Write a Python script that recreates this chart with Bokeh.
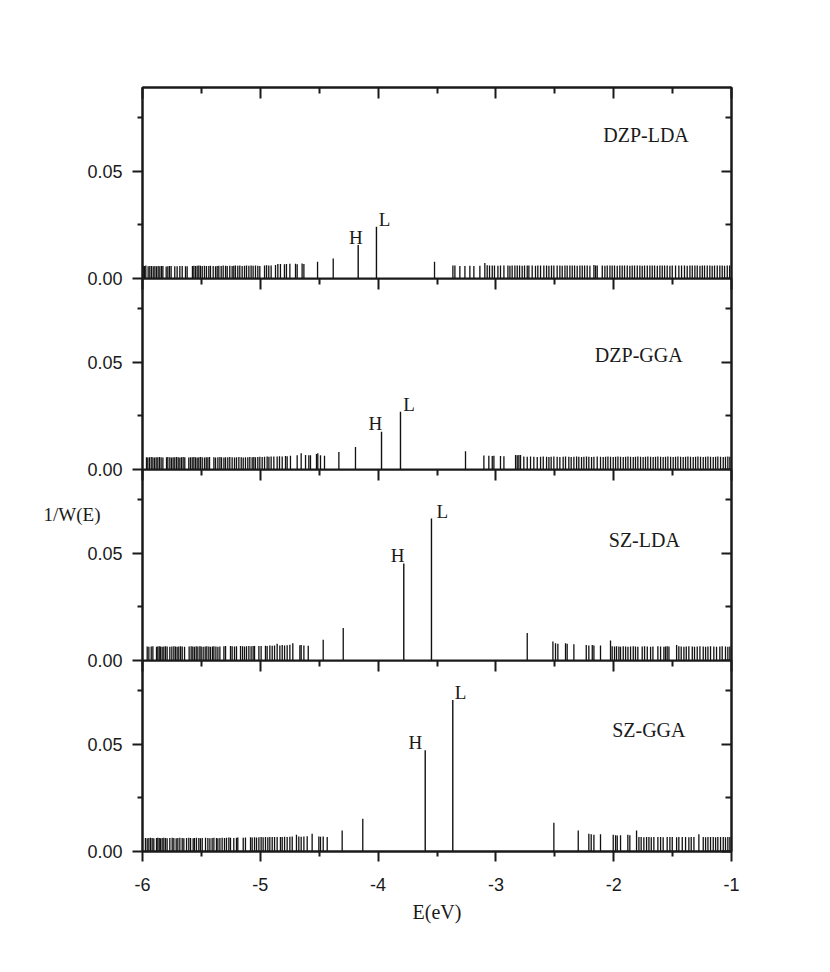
from bokeh.plotting import figure
from bokeh.models import (Range1d, LinearAxis, FixedTicker, PrintfTickFormatter,
                          Label, ColumnDataSource, Grid)
from bokeh.layouts import column
from bokeh.embed import file_html
from bokeh.resources import INLINE
from bokeh.core.properties import value

SANS = "Liberation Sans"
SERIF = "Liberation Serif"
INK = "#1a1a1a"
STICK = "#111111"

# ---------------- data ----------------
x_major = [-6, -5, -4, -3, -2, -1]
x_minor = [-5.5, -4.5, -3.5, -2.5, -1.5]
y_major = [0.0, 0.05]
y_minor = [0.025, 0.075]

panel_names = ["DZP-LDA", "DZP-GGA", "SZ-LDA", "SZ-GGA"]

# HOMO (H) and LUMO (L) levels per panel
homo_e = [-4.169, -3.971, -3.782, -3.600]
homo_h = [0.0156, 0.0176, 0.0452, 0.0472]
lumo_e = [-4.014, -3.810, -3.547, -3.366]
lumo_h = [0.0241, 0.0269, 0.0662, 0.0706]

# DZP-LDA levels
dzp_lda_e = [
    -5.994, -5.983, -5.972, -5.952, -5.938, -5.924, -5.909, -5.895, -5.881, -5.867,
    -5.853, -5.839, -5.827, -5.799, -5.785, -5.771, -5.757, -5.726, -5.706, -5.683,
    -5.663, -5.635, -5.621, -5.576, -5.564, -5.550, -5.536, -5.522, -5.508, -5.493,
    -5.474, -5.457, -5.437, -5.423, -5.400, -5.380, -5.366, -5.352, -5.332, -5.315,
    -5.295, -5.281, -5.259, -5.239, -5.225, -5.211, -5.191, -5.174, -5.154, -5.134,
    -5.117, -5.097, -5.078, -5.061, -5.041, -5.021, -5.004, -4.964, -4.947, -4.928,
    -4.908, -4.871, -4.851, -4.829, -4.795, -4.778, -4.749, -4.701, -4.687, -4.645,
    -4.630, -4.514, -4.381, -3.521,
    -3.365, -3.348, -3.306, -3.263, -3.221, -3.187, -3.136, -3.094, -3.074, -3.054,
    -3.031, -3.012, -2.983, -2.961, -2.932, -2.898, -2.881, -2.862, -2.839, -2.819,
    -2.799, -2.777, -2.757, -2.734, -2.720, -2.692, -2.664, -2.644, -2.621, -2.593,
    -2.570, -2.550, -2.528, -2.508, -2.480, -2.457, -2.437, -2.414, -2.395, -2.372,
    -2.352, -2.332, -2.310, -2.287, -2.267, -2.247, -2.225, -2.202, -2.168, -2.154,
    -2.140, -2.097, -2.075, -2.055, -2.032, -2.013, -1.993, -1.970, -1.948, -1.928,
    -1.908, -1.885, -1.863, -1.843, -1.823, -1.800, -1.778, -1.758, -1.738, -1.715,
    -1.693, -1.673, -1.653, -1.630, -1.608, -1.588, -1.568, -1.546, -1.523, -1.503,
    -1.475, -1.447, -1.424, -1.399, -1.376, -1.353, -1.333, -1.311, -1.291, -1.268,
    -1.248, -1.229, -1.206, -1.184, -1.164, -1.144, -1.121, -1.099, -1.079, -1.059,
    -1.036, -1.016,
]
dzp_lda_h = [
    0.0059, 0.0058, 0.0060, 0.0057, 0.0058, 0.0058, 0.0057, 0.0058, 0.0057, 0.0058,
    0.0057, 0.0058, 0.0058, 0.0056, 0.0057, 0.0058, 0.0058, 0.0057, 0.0057, 0.0058,
    0.0058, 0.0057, 0.0057, 0.0058, 0.0059, 0.0058, 0.0059, 0.0060, 0.0059, 0.0058,
    0.0059, 0.0058, 0.0058, 0.0059, 0.0058, 0.0057, 0.0058, 0.0059, 0.0058, 0.0060,
    0.0059, 0.0058, 0.0059, 0.0058, 0.0059, 0.0060, 0.0059, 0.0060, 0.0058, 0.0059,
    0.0060, 0.0059, 0.0060, 0.0059, 0.0060, 0.0059, 0.0058, 0.0060, 0.0062, 0.0060,
    0.0061, 0.0063, 0.0068, 0.0067, 0.0066, 0.0068, 0.0069, 0.0069, 0.0066, 0.0070,
    0.0068, 0.0078, 0.0093, 0.0078,
    0.0060, 0.0060, 0.0058, 0.0058, 0.0059, 0.0058, 0.0059, 0.0072, 0.0062, 0.0060,
    0.0061, 0.0060, 0.0059, 0.0060, 0.0061, 0.0060, 0.0059, 0.0060, 0.0060, 0.0061,
    0.0060, 0.0059, 0.0060, 0.0061, 0.0060, 0.0060, 0.0059, 0.0060, 0.0061, 0.0060,
    0.0060, 0.0059, 0.0060, 0.0060, 0.0061, 0.0060, 0.0059, 0.0060, 0.0060, 0.0061,
    0.0060, 0.0060, 0.0059, 0.0060, 0.0061, 0.0060, 0.0060, 0.0059, 0.0063, 0.0061,
    0.0060, 0.0060, 0.0059, 0.0060, 0.0061, 0.0060, 0.0060, 0.0059, 0.0060, 0.0060,
    0.0061, 0.0060, 0.0059, 0.0060, 0.0060, 0.0061, 0.0060, 0.0059, 0.0060, 0.0060,
    0.0060, 0.0061, 0.0060, 0.0059, 0.0060, 0.0060, 0.0061, 0.0060, 0.0059, 0.0060,
    0.0060, 0.0060, 0.0061, 0.0060, 0.0059, 0.0060, 0.0060, 0.0061, 0.0060, 0.0059,
    0.0060, 0.0060, 0.0061, 0.0060, 0.0059, 0.0060, 0.0060, 0.0061, 0.0060, 0.0059,
    0.0060, 0.0060,
]

# DZP-GGA levels
dzp_gga_e = [
    -5.966, -5.955, -5.941, -5.926, -5.912, -5.898, -5.884, -5.870, -5.856, -5.842,
    -5.827, -5.796, -5.785, -5.768, -5.754, -5.740, -5.726, -5.711, -5.697, -5.683,
    -5.669, -5.655, -5.641, -5.607, -5.593, -5.578, -5.564, -5.550, -5.536, -5.522,
    -5.508, -5.493, -5.474, -5.459, -5.445, -5.431, -5.394, -5.380, -5.360, -5.343,
    -5.329, -5.309, -5.295, -5.276, -5.259, -5.239, -5.219, -5.202, -5.182, -5.162,
    -5.145, -5.126, -5.106, -5.089, -5.069, -5.055, -5.041, -5.021, -5.004, -4.984,
    -4.964, -4.942, -4.927, -4.908, -4.885, -4.857, -4.837, -4.814, -4.786, -4.772,
    -4.744, -4.687, -4.653, -4.616, -4.588, -4.574, -4.523, -4.512, -4.489, -4.455,
    -4.333, -4.192, -3.258,
    -3.102, -3.060, -3.031, -3.017, -2.961, -2.932, -2.833, -2.819, -2.805, -2.791,
    -2.763, -2.734, -2.706, -2.678, -2.649, -2.621, -2.598, -2.570, -2.550, -2.531,
    -2.508, -2.480, -2.457, -2.429, -2.409, -2.381, -2.361, -2.338, -2.315, -2.296,
    -2.273, -2.253, -2.231, -2.211, -2.188, -2.168, -2.140, -2.112, -2.089, -2.069,
    -2.049, -2.027, -2.004, -1.984, -1.964, -1.942, -1.919, -1.899, -1.879, -1.857,
    -1.834, -1.815, -1.795, -1.772, -1.750, -1.730, -1.710, -1.687, -1.665, -1.645,
    -1.625, -1.602, -1.580, -1.560, -1.540, -1.517, -1.495, -1.475, -1.455, -1.432,
    -1.410, -1.390, -1.370, -1.348, -1.325, -1.305, -1.285, -1.263, -1.240, -1.220,
    -1.200, -1.178, -1.155, -1.135, -1.116, -1.093, -1.070, -1.051, -1.031, -1.014,
]
dzp_gga_h = [
    0.0057, 0.0056, 0.0057, 0.0058, 0.0057, 0.0056, 0.0057, 0.0057, 0.0058, 0.0057,
    0.0056, 0.0057, 0.0058, 0.0057, 0.0056, 0.0057, 0.0057, 0.0058, 0.0057, 0.0056,
    0.0057, 0.0058, 0.0057, 0.0056, 0.0057, 0.0057, 0.0058, 0.0057, 0.0056, 0.0057,
    0.0058, 0.0057, 0.0056, 0.0057, 0.0057, 0.0058, 0.0057, 0.0056, 0.0057, 0.0058,
    0.0057, 0.0056, 0.0057, 0.0057, 0.0058, 0.0057, 0.0056, 0.0057, 0.0058, 0.0057,
    0.0056, 0.0057, 0.0057, 0.0058, 0.0057, 0.0058, 0.0057, 0.0058, 0.0059, 0.0058,
    0.0059, 0.0060, 0.0059, 0.0060, 0.0061, 0.0060, 0.0062, 0.0061, 0.0063, 0.0062,
    0.0064, 0.0066, 0.0076, 0.0068, 0.0066, 0.0066, 0.0072, 0.0076, 0.0066, 0.0064,
    0.0081, 0.0105, 0.0085,
    0.0065, 0.0064, 0.0063, 0.0064, 0.0063, 0.0062, 0.0068, 0.0066, 0.0068, 0.0067,
    0.0060, 0.0059, 0.0060, 0.0059, 0.0058, 0.0059, 0.0060, 0.0059, 0.0058, 0.0059,
    0.0060, 0.0059, 0.0058, 0.0059, 0.0060, 0.0059, 0.0058, 0.0059, 0.0060, 0.0059,
    0.0058, 0.0059, 0.0060, 0.0059, 0.0058, 0.0059, 0.0060, 0.0059, 0.0058, 0.0059,
    0.0060, 0.0059, 0.0058, 0.0059, 0.0060, 0.0059, 0.0058, 0.0059, 0.0060, 0.0059,
    0.0058, 0.0059, 0.0060, 0.0059, 0.0058, 0.0059, 0.0060, 0.0059, 0.0058, 0.0059,
    0.0060, 0.0059, 0.0058, 0.0059, 0.0060, 0.0059, 0.0058, 0.0059, 0.0060, 0.0059,
    0.0058, 0.0059, 0.0060, 0.0059, 0.0058, 0.0059, 0.0060, 0.0059, 0.0058, 0.0059,
    0.0060, 0.0059, 0.0058, 0.0059, 0.0060, 0.0059, 0.0058, 0.0059, 0.0060, 0.0059,
]

# SZ-LDA levels
sz_lda_e = [
    -5.960, -5.946, -5.926, -5.912, -5.881, -5.870, -5.858, -5.847, -5.833, -5.819,
    -5.805, -5.791, -5.768, -5.751, -5.734, -5.720, -5.706, -5.692, -5.677, -5.663,
    -5.643, -5.604, -5.587, -5.573, -5.559, -5.544, -5.530, -5.513, -5.502, -5.485,
    -5.468, -5.454, -5.437, -5.423, -5.406, -5.394, -5.377, -5.360, -5.343, -5.309,
    -5.295, -5.253, -5.239, -5.219, -5.202, -5.168, -5.151, -5.134, -5.117, -5.097,
    -5.078, -5.061, -5.049, -5.012, -4.993, -4.956, -4.942, -4.919, -4.899, -4.879,
    -4.857, -4.834, -4.814, -4.794, -4.772, -4.749, -4.724, -4.664, -4.653, -4.630,
    -4.593, -4.466, -4.296, -2.734,
    -2.516, -2.494, -2.474, -2.409, -2.395, -2.338, -2.233, -2.211, -2.182, -2.168,
    -2.112, -2.027, -2.013, -1.993, -1.976, -1.956, -1.942, -1.919, -1.899, -1.879,
    -1.857, -1.834, -1.815, -1.795, -1.758, -1.738, -1.715, -1.687, -1.667, -1.625,
    -1.602, -1.574, -1.560, -1.546, -1.531, -1.466, -1.447, -1.427, -1.404, -1.384,
    -1.362, -1.333, -1.314, -1.291, -1.268, -1.240, -1.220, -1.200, -1.178, -1.150,
    -1.127, -1.099, -1.079, -1.051, -1.031, -1.014,
]
sz_lda_h = [
    0.0065, 0.0064, 0.0065, 0.0066, 0.0064, 0.0065, 0.0066, 0.0065, 0.0064, 0.0065,
    0.0066, 0.0065, 0.0064, 0.0065, 0.0066, 0.0065, 0.0064, 0.0065, 0.0066, 0.0065,
    0.0064, 0.0065, 0.0066, 0.0065, 0.0064, 0.0066, 0.0065, 0.0066, 0.0065, 0.0064,
    0.0065, 0.0066, 0.0065, 0.0064, 0.0065, 0.0066, 0.0065, 0.0064, 0.0065, 0.0066,
    0.0068, 0.0067, 0.0066, 0.0065, 0.0066, 0.0067, 0.0066, 0.0065, 0.0066, 0.0067,
    0.0066, 0.0067, 0.0068, 0.0067, 0.0068, 0.0069, 0.0068, 0.0070, 0.0069, 0.0070,
    0.0078, 0.0070, 0.0072, 0.0070, 0.0071, 0.0073, 0.0080, 0.0071, 0.0072, 0.0070,
    0.0069, 0.0097, 0.0151, 0.0128,
    0.0089, 0.0080, 0.0078, 0.0080, 0.0078, 0.0076, 0.0072, 0.0070, 0.0072, 0.0070,
    0.0070, 0.0093, 0.0066, 0.0065, 0.0066, 0.0065, 0.0064, 0.0066, 0.0065, 0.0064,
    0.0065, 0.0066, 0.0065, 0.0064, 0.0065, 0.0066, 0.0065, 0.0064, 0.0065, 0.0066,
    0.0065, 0.0064, 0.0065, 0.0066, 0.0065, 0.0072, 0.0066, 0.0065, 0.0064, 0.0065,
    0.0066, 0.0065, 0.0064, 0.0065, 0.0066, 0.0065, 0.0064, 0.0065, 0.0066, 0.0065,
    0.0064, 0.0065, 0.0066, 0.0065, 0.0064, 0.0065,
]

# SZ-GGA levels
sz_gga_e = [
    -5.975, -5.960, -5.946, -5.932, -5.918, -5.904, -5.881, -5.870, -5.858, -5.847,
    -5.833, -5.819, -5.805, -5.791, -5.768, -5.748, -5.734, -5.714, -5.700, -5.683,
    -5.663, -5.649, -5.626, -5.607, -5.592, -5.570, -5.559, -5.542, -5.522, -5.508,
    -5.493, -5.465, -5.445, -5.428, -5.409, -5.394, -5.372, -5.360, -5.343, -5.324,
    -5.304, -5.287, -5.267, -5.253, -5.225, -5.202, -5.191, -5.145, -5.126, -5.083,
    -5.069, -5.049, -5.032, -5.012, -4.993, -4.976, -4.956, -4.936, -4.919, -4.899,
    -4.879, -4.857, -4.829, -4.814, -4.794, -4.772, -4.749, -4.729, -4.693, -4.673,
    -4.653, -4.630, -4.602, -4.560, -4.503, -4.489, -4.466, -4.432,
    -4.305, -4.130, -2.508,
    -2.301, -2.211, -2.191, -2.168, -2.112, -2.004, -1.984, -1.970, -1.942, -1.880,
    -1.863, -1.806, -1.786, -1.767, -1.744, -1.721, -1.701, -1.681, -1.659, -1.625,
    -1.602, -1.580, -1.546, -1.523, -1.503, -1.466, -1.447, -1.418, -1.390, -1.362,
    -1.342, -1.319, -1.277, -1.240, -1.220, -1.200, -1.178, -1.155, -1.135, -1.116,
    -1.093, -1.070, -1.051, -1.031, -1.014,
]
sz_gga_h = [
    0.0063, 0.0062, 0.0063, 0.0064, 0.0063, 0.0062, 0.0063, 0.0064, 0.0063, 0.0062,
    0.0063, 0.0064, 0.0063, 0.0062, 0.0063, 0.0064, 0.0063, 0.0062, 0.0063, 0.0064,
    0.0063, 0.0062, 0.0063, 0.0064, 0.0063, 0.0062, 0.0063, 0.0064, 0.0063, 0.0062,
    0.0063, 0.0064, 0.0063, 0.0062, 0.0063, 0.0064, 0.0063, 0.0062, 0.0063, 0.0064,
    0.0063, 0.0064, 0.0065, 0.0064, 0.0063, 0.0064, 0.0065, 0.0064, 0.0065, 0.0066,
    0.0065, 0.0066, 0.0065, 0.0066, 0.0067, 0.0066, 0.0067, 0.0066, 0.0067, 0.0068,
    0.0067, 0.0068, 0.0067, 0.0068, 0.0069, 0.0068, 0.0069, 0.0070, 0.0078, 0.0070,
    0.0069, 0.0070, 0.0071, 0.0083, 0.0070, 0.0069, 0.0070, 0.0068,
    0.0098, 0.0153, 0.0134,
    0.0098, 0.0083, 0.0080, 0.0078, 0.0080, 0.0078, 0.0076, 0.0074, 0.0076, 0.0078,
    0.0076, 0.0098, 0.0068, 0.0067, 0.0066, 0.0068, 0.0067, 0.0066, 0.0067, 0.0068,
    0.0067, 0.0066, 0.0067, 0.0068, 0.0067, 0.0066, 0.0067, 0.0068, 0.0067, 0.0066,
    0.0067, 0.0068, 0.0080, 0.0067, 0.0066, 0.0067, 0.0068, 0.0067, 0.0066, 0.0067,
    0.0068, 0.0067, 0.0066, 0.0067, 0.0068,
]

levels_e = [dzp_lda_e, dzp_gga_e, sz_lda_e, sz_gga_e]
levels_h = [dzp_lda_h, dzp_gga_h, sz_lda_h, sz_gga_h]

# ---------------- styling / placement ----------------
name_pos = [(-2.089, 0.0668), (-2.160, 0.0533), (-2.042, 0.0560), (-2.013, 0.0565)]
h_dx = [4.6, 0.7, 0.7, -3.0]
l_dx = [2.3, 2.7, 5.0, 2.0]

FRAME_W, FRAME_H = 589, 191
Y_END = 0.089
LEFT, TOP = 142, 87
OVER = 14  # room below a panel for its half-overlapping "0.00" label
TICK_FS = "18px"


def style_axis(ax, t_in, t_out, m_in, m_out):
    ax.axis_line_color = INK
    ax.axis_line_width = 2
    ax.major_tick_line_color = INK
    ax.minor_tick_line_color = INK
    ax.major_tick_line_width = 2
    ax.minor_tick_line_width = 2
    ax.major_tick_in = t_in
    ax.major_tick_out = t_out
    ax.minor_tick_in = m_in
    ax.minor_tick_out = m_out
    ax.major_label_text_font = SANS
    ax.major_label_text_color = INK


def hide_labels(ax):
    ax.major_label_text_color = None
    ax.major_label_standoff = 0


panels = []
for k in range(4):
    p = figure(
        frame_width=FRAME_W, frame_height=FRAME_H,
        x_range=Range1d(-6, -1), y_range=Range1d(0, Y_END),
        x_axis_location=None, y_axis_location=None,
        toolbar_location=None, output_backend="svg",
        min_border_left=LEFT, min_border_right=40,
        min_border_top=TOP if k == 0 else 0,
        min_border_bottom=90 if k == 3 else OVER,
        margin=(0, 0, 0 if k == 3 else -OVER, 0),
    )
    for r in p.center:
        if isinstance(r, Grid):
            r.visible = False
    p.outline_line_color = INK
    p.outline_line_width = 2
    p.background_fill_color = "white"
    if k == 0:
        p.border_fill_color = "white"
    else:
        p.border_fill_color = None

    # left axis
    ly = LinearAxis(ticker=FixedTicker(ticks=y_major, minor_ticks=y_minor),
                    formatter=PrintfTickFormatter(format="%.2f"))
    style_axis(ly, 0, 10, 0, 5)
    ly.major_label_text_font_size = TICK_FS
    ly.major_label_standoff = 10
    if k == 2:
        ly.axis_label = "1/W(E)\n\n\n\n"
        ly.axis_label_orientation = "horizontal"
        ly.axis_label_text_font = SERIF
        ly.axis_label_text_font_size = "19px"
        ly.axis_label_text_font_style = "normal"
        ly.axis_label_text_color = INK
        ly.axis_label_standoff = -16
    p.add_layout(ly, "left")

    # right axis (ticks inward)
    ry = LinearAxis(ticker=FixedTicker(ticks=y_major, minor_ticks=y_minor))
    style_axis(ry, 10, 0, 6, 0)
    hide_labels(ry)
    p.add_layout(ry, "right")

    # top axis (ticks inward)
    tx = LinearAxis(ticker=FixedTicker(ticks=x_major, minor_ticks=x_minor))
    style_axis(tx, 11, 0, 6, 0)
    hide_labels(tx)
    p.add_layout(tx, "above")

    if k == 3:
        bx = LinearAxis(ticker=FixedTicker(ticks=x_major, minor_ticks=x_minor),
                        formatter=PrintfTickFormatter(format="%d"))
        style_axis(bx, 0, 10, 0, 5)
        bx.major_label_text_font_size = TICK_FS
        bx.major_label_standoff = 16
        bx.axis_label = "E(eV)"
        bx.axis_label_text_font = SERIF
        bx.axis_label_text_font_size = "20px"
        bx.axis_label_text_font_style = "normal"
        bx.axis_label_text_color = INK
        bx.axis_label_standoff = 7
        p.add_layout(bx, "below")

    src = ColumnDataSource(dict(e=levels_e[k], h=levels_h[k]))
    p.segment(x0="e", y0=0, x1="e", y1="h", source=src, line_color=STICK, line_width=1.3)

    hl = ColumnDataSource(dict(e=[homo_e[k], lumo_e[k]], h=[homo_h[k], lumo_h[k]]))
    p.segment(x0="e", y0=0, x1="e", y1="h", source=hl, line_color=STICK, line_width=1.4)

    p.text(x=[homo_e[k]], y=[homo_h[k]], text=["H"], text_font=value(SERIF),
           text_font_size="19px", text_align="right", text_baseline="alphabetic",
           x_offset=h_dx[k], y_offset=-8, text_color=INK)
    p.text(x=[lumo_e[k]], y=[lumo_h[k]], text=["L"], text_font=value(SERIF),
           text_font_size="19px", text_align="left", text_baseline="alphabetic",
           x_offset=l_dx[k], y_offset=-7, text_color=INK)

    nx, ny = name_pos[k]
    p.add_layout(Label(x=nx, y=ny, text=panel_names[k], text_font=SERIF,
                       text_font_size="20px", text_align="left",
                       text_baseline="middle", text_color=INK))
    panels.append(p)

layout = column(*panels, spacing=0)
open("out.html", "w").write(file_html(layout, INLINE))
